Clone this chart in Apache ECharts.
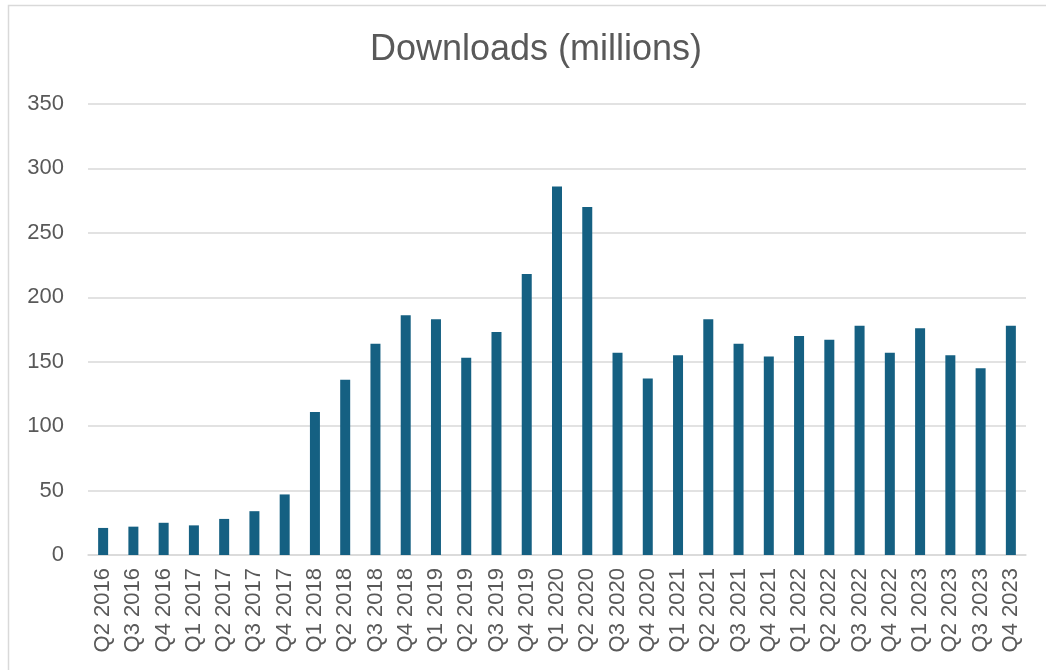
<!DOCTYPE html>
<html>
<head>
<meta charset="utf-8">
<script src="https://cdn.jsdelivr.net/npm/echarts@6/dist/echarts.min.js"></script>
<style>
  html, body { margin: 0; padding: 0; background: #fff; }
  #main { width: 1046px; height: 670px; }
</style>
</head>
<body>
<div id="main"></div>
<script>
var quarters = [
  'Q2 2016', 'Q3 2016', 'Q4 2016',
  'Q1 2017', 'Q2 2017', 'Q3 2017', 'Q4 2017',
  'Q1 2018', 'Q2 2018', 'Q3 2018', 'Q4 2018',
  'Q1 2019', 'Q2 2019', 'Q3 2019', 'Q4 2019',
  'Q1 2020', 'Q2 2020', 'Q3 2020', 'Q4 2020',
  'Q1 2021', 'Q2 2021', 'Q3 2021', 'Q4 2021',
  'Q1 2022', 'Q2 2022', 'Q3 2022', 'Q4 2022',
  'Q1 2023', 'Q2 2023', 'Q3 2023', 'Q4 2023'
];
var downloads = [
  21, 22, 25,
  23, 28, 34, 47,
  111, 136, 164, 186,
  183, 153, 173, 218,
  286, 270, 157, 137,
  155, 183, 164, 154,
  170, 167, 178, 157,
  176, 155, 145, 178
];

var labelFont = 'Liberation Sans, Arial, sans-serif';
var textGrey = '#595959';
var lineGrey = '#d9d9d9';

var myChart = echarts.init(document.getElementById('main'));
var option = {
  animation: false,
  title: {
    text: 'Downloads (millions)',
    left: 531,
    textAlign: 'center',
    top: 27,
    textStyle: {
      fontFamily: labelFont,
      fontSize: 36,
      fontWeight: 'normal',
      color: textGrey
    }
  },
  graphic: [{
    type: 'rect',
    shape: { x: 8.5, y: 5.5, width: 1100, height: 700 },
    style: { fill: 'none', stroke: lineGrey, lineWidth: 1.5 },
    silent: true
  }],
  grid: {
    left: 88,
    right: 20,
    top: 104,
    bottom: 115
  },
  xAxis: {
    type: 'category',
    data: quarters,
    axisLine: { lineStyle: { color: lineGrey, width: 1.5 } },
    axisTick: { show: false },
    axisLabel: {
      rotate: 90,
      interval: 0,
      margin: 13,
      fontFamily: labelFont,
      fontSize: 22,
      color: textGrey
    }
  },
  yAxis: {
    type: 'value',
    min: 0,
    max: 350,
    interval: 50,
    axisLine: { show: false },
    axisTick: { show: false },
    splitLine: { lineStyle: { color: lineGrey, width: 1.5 } },
    axisLabel: {
      margin: 24,
      fontFamily: labelFont,
      fontSize: 22,
      color: textGrey
    }
  },
  series: [{
    type: 'bar',
    data: downloads,
    barWidth: 10,
    itemStyle: { color: '#156082' }
  }]
};
myChart.setOption(option);
window.onresize = function () {
  myChart.resize();
};
</script>
</body>
</html>
